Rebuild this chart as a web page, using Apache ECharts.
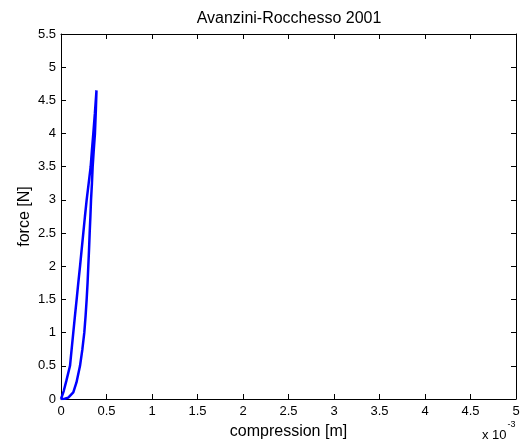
<!DOCTYPE html>
<html>
<head>
<meta charset="utf-8">
<script src="https://cdn.jsdelivr.net/npm/echarts@6/dist/echarts.min.js"></script>
<style>html,body{margin:0;padding:0;background:#fff;}#c{width:532px;height:445px;}</style>
</head>
<body>
<div id="c"></div>
<script>
// compression in units of 1e-3 m, force in N
const loadX = [0, 0.04, 0.08, 0.1, 0.135, 0.17, 0.209, 0.235, 0.256, 0.27, 0.282, 0.292, 0.30, 0.308, 0.315, 0.323, 0.33, 0.34, 0.348, 0.36, 0.373, 0.383, 0.39];
const loadF = [0, 0.003, 0.02, 0.05, 0.1, 0.25, 0.5, 0.75, 1.0, 1.25, 1.5, 1.75, 2.0, 2.25, 2.5, 2.75, 3.0, 3.25, 3.5, 3.75, 4.0, 4.35, 4.65];
const unloadX = [0.39, 0.372, 0.355, 0.34, 0.326, 0.304, 0.282, 0.263, 0.245, 0.227, 0.209, 0.19, 0.172, 0.153, 0.135, 0.117, 0.099, 0.06, 0.03, 0];
const unloadF = [4.65, 4.3, 4.0, 3.75, 3.5, 3.25, 3.0, 2.75, 2.5, 2.25, 2.0, 1.75, 1.5, 1.25, 1.0, 0.75, 0.5, 0.28, 0.12, 0];
const xTickMin = 0, xTickMax = 5, xTickStep = 0.5;
const yTickMin = 0, yTickMax = 5.5, yTickStep = 0.5;
const titleText = 'Avanzini-Rocchesso 2001';
const xLabel = 'compression [m]';
const yLabel = 'force [N]';

const loop = loadX.map((x, i) => [x, loadF[i]]).concat(unloadX.map((x, i) => [x, unloadF[i]]));
const FONT = 'Liberation Sans, Arial, sans-serif';
const axisCommon = {
  axisLine: { show: true, onZero: false, lineStyle: { color: '#000', width: 1 } },
  axisTick: { show: true, inside: true, length: 5, lineStyle: { color: '#000' } },
  splitLine: { show: false }
};
const chart = echarts.init(document.getElementById('c'), null, { renderer: 'canvas' });
chart.setOption({
  backgroundColor: '#fff',
  animation: false,
  title: {
    text: titleText, left: 284, top: 6, textAlign: 'center',
    textStyle: { fontFamily: FONT, fontSize: 16, fontWeight: 'normal', color: '#000' }
  },
  grid: { left: 61, right: 16, top: 34, bottom: 46, containLabel: false, outerBoundsMode: 'none' },
  xAxis: [
    Object.assign({
      type: 'value', position: 'bottom', min: xTickMin, max: xTickMax, interval: xTickStep,
      name: xLabel, nameLocation: 'middle', nameGap: 25, nameMoveOverlap: false,
      nameTextStyle: { fontFamily: FONT, fontSize: 16, color: '#000' },
      axisLabel: { margin: 6, fontFamily: FONT, fontSize: 13, color: '#000' }
    }, axisCommon),
    Object.assign({
      type: 'value', position: 'top', min: xTickMin, max: xTickMax, interval: xTickStep,
      axisLabel: { show: false }
    }, axisCommon)
  ],
  yAxis: [
    Object.assign({
      type: 'value', position: 'left', min: yTickMin, max: yTickMax, interval: yTickStep,
      name: yLabel, nameLocation: 'middle', nameGap: 28, nameMoveOverlap: false,
      nameTextStyle: { fontFamily: FONT, fontSize: 16, color: '#000' },
      axisLabel: { margin: 5, fontFamily: FONT, fontSize: 13, color: '#000' }
    }, axisCommon),
    Object.assign({
      type: 'value', position: 'right', min: yTickMin, max: yTickMax, interval: yTickStep,
      axisLabel: { show: false }
    }, axisCommon)
  ],
  graphic: [{
    type: 'text', left: 482, top: 420,
    style: {
      text: '{b|x 10}{s|-3}',
      rich: {
        b: { fontFamily: FONT, fontSize: 13, color: '#000', padding: [9, 0, 0, 0] },
        s: { fontFamily: FONT, fontSize: 9, color: '#000', verticalAlign: 'top', padding: [0, 0, 9, 1] }
      }
    }
  }],
  series: [{
    type: 'line', xAxisIndex: 0, yAxisIndex: 0, data: loop,
    showSymbol: false, smooth: false,
    lineStyle: { color: '#0000ff', width: 2.5 }
  }]
});
</script>
</body>
</html>
